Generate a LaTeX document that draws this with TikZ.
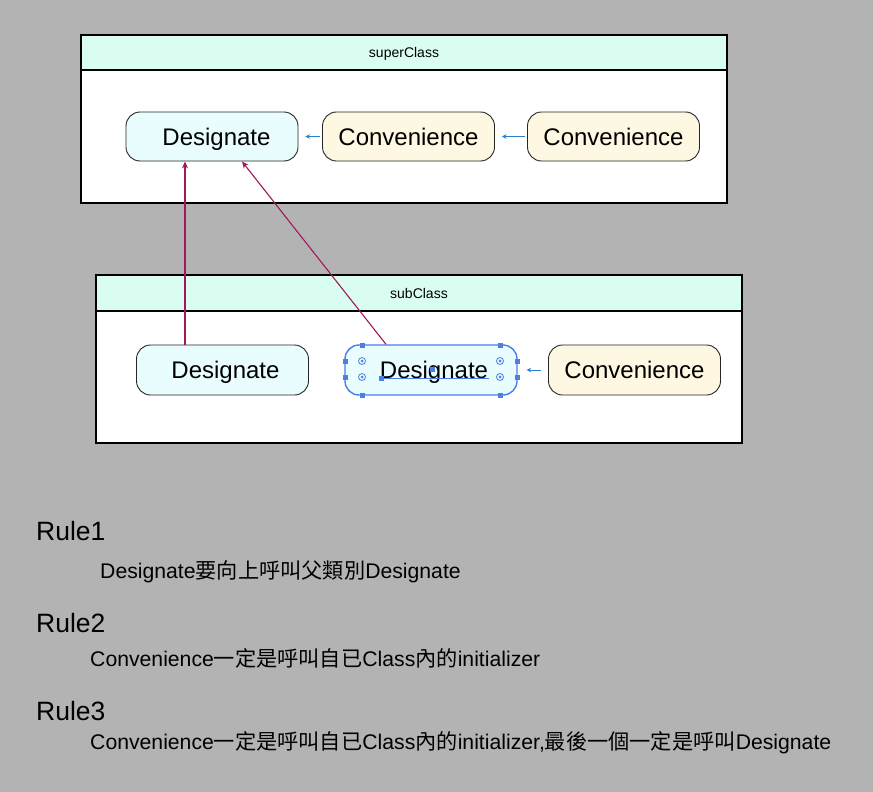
\documentclass[tikz,border=0pt]{standalone}
\usepackage{fontspec}
\setmainfont{Liberation Sans}
\newfontfamily\cjk{Noto Sans CJK TC}
\usetikzlibrary{arrows.meta}
\definecolor{bgc}{HTML}{B3B3B3}
\definecolor{headc}{HTML}{D9FDF1}
\definecolor{desc}{HTML}{E9FCFE}
\definecolor{convc}{HTML}{FEF8E2}
\definecolor{magc}{HTML}{A1175E}
\definecolor{bluec}{HTML}{2A7FC8}
\definecolor{selc}{HTML}{4A7FE6}
\tikzset{
  headbox/.style={draw=black, line width=1.2pt, fill=headc, minimum width=646pt, inner sep=0pt, text height=10pt, text depth=0pt, font=\fontsize{14}{16}\selectfont},
  bodybox/.style={draw=black, line width=1.2pt, fill=white, minimum width=646pt, inner sep=0pt},
  meth/.style={draw=black!85, line width=0.9pt, rounded corners=14pt, minimum width=172pt, minimum height=49pt, inner sep=0pt, text height=17.2pt, text depth=0pt, font=\fontsize{24}{28}\selectfont},
  desig/.style={meth, fill=desc},
  conv/.style={meth, fill=convc},
  callarrow/.style={draw=bluec, line width=1pt, -{Stealth[length=4.5pt,width=4.5pt]}},
  superarrow/.style={draw=magc, line width=1.1pt, -{Stealth[length=7pt,width=6pt]}},
  handle/.style={fill=selc, draw=none, minimum size=5pt, inner sep=0pt},
  ring/.style={draw=selc, line width=0.8pt, circle, minimum size=7pt, inner sep=0pt},
  rulehead/.style={anchor=base west, inner sep=0pt, font=\fontsize{26.5}{30}\selectfont},
  ruletext/.style={anchor=base west, inner sep=0pt, font=\fontsize{21.2}{25}\selectfont},
}
\begin{document}
\begin{tikzpicture}[x=1pt,y=-1pt]
\fill[bgc] (0,0) rectangle (873,792);
\useasboundingbox (0,0) rectangle (873,792);

% superClass
\node[bodybox, minimum height=133pt] (supb) at (404,136.5) {};
\node[headbox, minimum height=35pt] (suph) at (404,52.5) {superClass};
\node[desig] (sd) at (212,136.5) {\hspace*{9pt}Designate};
\node[conv] (c1) at (408.5,136.5) {Convenience};
\node[conv] (c2) at (613.5,136.5) {Convenience};

% subClass
\node[bodybox, minimum height=132pt] (subb) at (419,377) {};
\node[headbox, minimum height=36pt] (subh) at (419,293) {subClass};
\node[desig, minimum height=50pt] (b1) at (222.5,370) {\hspace*{6pt}Designate};
\node[desig, minimum height=50pt, draw=selc, line width=1.4pt] (b2) at (431,370) {\hspace*{6pt}Designate};
\node[conv, minimum height=50pt] (b3) at (634.5,370) {Convenience};

% selection handles on b2
\foreach \p in {(362,345),(500,345),(362,395),(500,395),(345,361),(345,377),(517,361),(517,377),(381,378),(432,369)}
  \node[handle] at \p {};
\foreach \p in {(362,361),(362,377),(500,361),(500,377)}{
  \node[ring] at \p {};
  \fill[selc] \p circle (1.5pt);
}
\draw[selc, line width=0.9pt] (381,378) -- (489,378);

% calls within class
\draw[callarrow] ([xshift=-2pt]c1.west) -- ([xshift=7pt]sd.east);
\draw[callarrow] ([xshift=-2pt]c2.west) -- ([xshift=7pt]c1.east);
\draw[callarrow] ([xshift=-7pt]b3.west) -- ([xshift=9pt]b2.east);

% calls to super
\draw[superarrow] ([xshift=-37.5pt]b1.north) -- ([xshift=-27pt]sd.south);
\draw[superarrow] ([xshift=-45pt]b2.north) -- ([xshift=30pt]sd.south);

% rules
\node[rulehead] (r1) at (36,540) {Rule1};
\node[ruletext] (t1) at (100,578) {Designate{\cjk 要向上呼叫父類別}Designate};
\node[rulehead] (r2) at (36,632) {Rule2};
\node[ruletext] (t2) at (90,666) {Convenience{\cjk 一定是呼叫自已}Class{\cjk 內的}initializer};
\node[rulehead] (r3) at (36,720) {Rule3};
\node[ruletext] (t3) at (90,749) {Convenience{\cjk 一定是呼叫自已}Class{\cjk 內的}initializer,{\cjk 最後一個一定是呼叫}Designate};
\end{tikzpicture}
\end{document}
